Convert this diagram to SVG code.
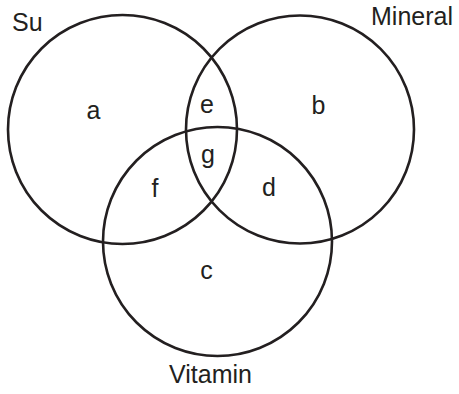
<svg xmlns="http://www.w3.org/2000/svg" width="459" height="394" viewBox="0 0 459 394">
<style>
.c{fill:none;stroke:#231f20;stroke-width:2.6}
text{font-family:"Liberation Sans",Arial,sans-serif;font-size:25px;fill:#231f20}
.m{text-anchor:middle}
</style>
<rect width="459" height="394" fill="#fff"/>
<g id="su"><circle class="c" cx="122.5" cy="129.5" r="114.5"/><text x="12" y="31">Su</text></g>
<g id="mineral"><circle class="c" cx="300" cy="129.5" r="114"/><text x="371" y="25">Mineral</text></g>
<g id="vitamin"><circle class="c" cx="217.5" cy="241.5" r="114.5"/><text x="169" y="383">Vitamin</text></g>
<g id="regions">
<text class="m" x="93.5" y="119">a</text>
<text class="m" x="207" y="113">e</text>
<text class="m" x="318.5" y="114">b</text>
<text class="m" x="208" y="163">g</text>
<text class="m" x="155" y="197">f</text>
<text class="m" x="269" y="196">d</text>
<text class="m" x="206.5" y="279">c</text>
</g>
<g id="connectors"/>
</svg>
